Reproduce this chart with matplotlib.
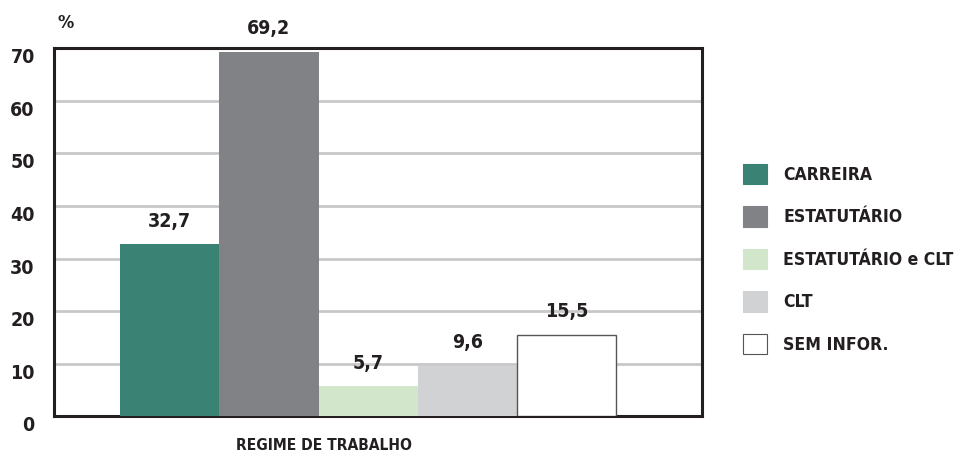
import matplotlib.pyplot as plt
from matplotlib.patches import Patch
from matplotlib import font_manager

# dados do gráfico
categorias = ['CARREIRA', 'ESTATUTÁRIO', 'ESTATUTÁRIO e CLT', 'CLT', 'SEM INFOR.']
valores = [32.7, 69.2, 5.7, 9.6, 15.5]
cores = ['#3a8274', '#808285', '#d2e6cc', '#d1d2d4', '#ffffff']
yticks = [0, 10, 20, 30, 40, 50, 60, 70]

# fonte condensada, a mais estreita que houver
ordem = ['ultra-condensed', 'extra-condensed', 'condensed', 'semi-condensed']
fontes = font_manager.fontManager.ttflist
fam, estreita = 'DejaVu Sans', 'normal'
for st in ordem:
    achadas = [f for f in fontes if str(f.stretch).lower() == st]
    if achadas:
        fam, estreita = achadas[0].name, st
        break
plt.rcParams['font.family'] = [fam, 'DejaVu Sans']
plt.rcParams['font.stretch'] = estreita
plt.rcParams['font.weight'] = 'bold'
TXT = '#231f20'

fig = plt.figure(figsize=(9.56, 4.59), dpi=100)
ax = fig.add_axes([0.056, 0.0926, 0.678, 0.803])

x = list(range(len(valores)))
for xi, v, c in zip(x, valores, cores):
    ax.bar(xi, v, width=1.0, color=c, edgecolor='#555555' if c == '#ffffff' else c,
           linewidth=1.0 if c == '#ffffff' else 0, zorder=3)
    ax.text(xi, v + 2.6, f'{v:.1f}'.replace('.', ','), ha='center', va='bottom',
            fontsize=14, fontweight='bold', color=TXT)

ax.set_xlim(-1.17, 5.36)
ax.set_ylim(0, 70)
ax.set_yticks(yticks)
ax.set_yticklabels([str(t) for t in yticks], fontsize=14, fontweight='bold', color=TXT)
ax.tick_params(axis='y', length=0, pad=13.5)
ax.set_xticks([])
for t in ax.get_yticklabels():
    t.set_verticalalignment('top')
ax.yaxis.grid(True, color='#c8c8ca', linewidth=2, zorder=0)
ax.set_axisbelow(True)
for s in ax.spines.values():
    s.set_linewidth(2.2)
    s.set_color(TXT)

fig.text(58 / 956, 1 - 23 / 459, '%', fontsize=13, fontweight='bold', color=TXT,
         ha='left', va='center')
fig.text(324 / 956, 1 - 446 / 459, 'REGIME DE TRABALHO', fontsize=11.2, fontweight='bold',
         color=TXT, ha='center', va='center')

handles = [Patch(facecolor=c, edgecolor='#555555' if c == '#ffffff' else c, linewidth=0.8)
           for c in cores]
fs_leg = 12.6
leg = fig.legend(handles, categorias, loc='upper left',
                 bbox_to_anchor=(743 / 956, 1 - 164 / 459),
                 frameon=False, handlelength=17.5 / fs_leg, handleheight=17.5 / fs_leg,
                 handletextpad=0.9, labelspacing=1.28, borderaxespad=0, borderpad=0,
                 prop={'family': [fam, 'DejaVu Sans'], 'weight': 'bold',
                       'stretch': estreita, 'size': fs_leg})
for t in leg.get_texts():
    t.set_color(TXT)

fig.savefig('out.png', dpi=100)
